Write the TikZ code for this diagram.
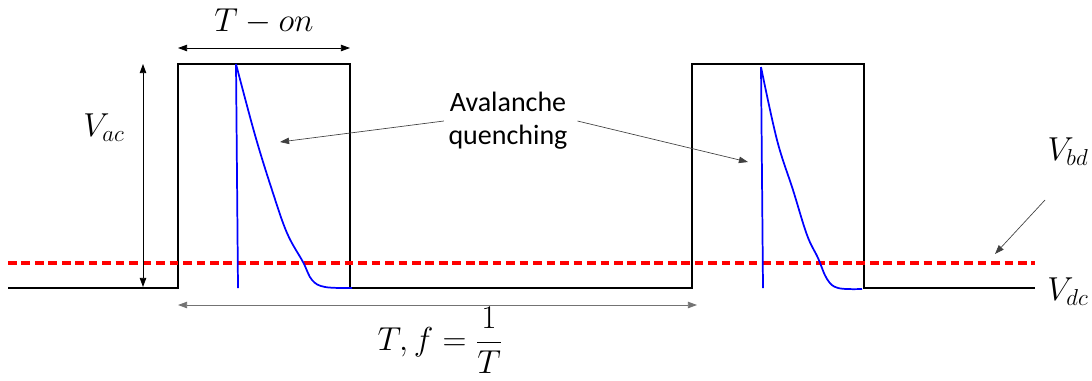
\documentclass[tikz,border=0pt]{standalone}
\usepackage{amsmath}
\usepackage{fontspec}
\setmainfont{Carlito}
\usetikzlibrary{positioning, arrows.meta, calc}

\begin{document}
\begin{tikzpicture}[x=0.75pt, y=-0.75pt, font=\fontsize{21}{25}\selectfont,
  >={Triangle[length=2.4mm, width=1.7mm]},
  sig/.style={line width=1.5pt, black},
  spad/.style={line width=1.3pt, blue},
  vbd/.style={line width=2.6pt, red, dash pattern=on 6.5pt off 3.6pt},
  dim/.style={<->, line width=0.6pt, black},
  lbl/.style={->, line width=0.5pt, black!75},
  mlbl/.style={font=\fontsize{24}{28}\selectfont, inner sep=1pt}]
\useasboundingbox (0,0) rectangle (1092,380);

% square gate signal
\coordinate (s0) at (8,288);
\coordinate (r1) at (178,288);  \coordinate (r1t) at (178,64);
\coordinate (f1t) at (350,64);  \coordinate (f1) at (350,288);
\coordinate (r2) at (692,288);  \coordinate (r2t) at (692,64);
\coordinate (f2t) at (864,64);  \coordinate (f2) at (864,288);
\coordinate (s1) at (1035,288);
\draw[sig] (s0) -- (r1) -- (r1t) -- (f1t) -- (f1) -- (r2) -- (r2t) -- (f2t) -- (f2) -- (s1);

% breakdown level
\coordinate (bd0) at (8,263);
\coordinate (bd1) at (1035,263);
\draw[vbd] (bd0) -- (bd1);

% avalanche pulses
\draw[spad] (238,288) -- (236,64)
  plot[smooth, tension=0.6] coordinates {(236,64) (255,135) (272,190) (287,233)
    (303,262) (312,280) (325,287) (352,288)};
\draw[spad] (763,288) -- (761,67)
  plot[smooth, tension=0.6] coordinates {(761,67) (777,140) (793,190) (807,235)
    (818,258) (827,279) (838,288) (862,289)};

% T-on
\node[mlbl] (ton) at (264,22) {$T-on$};
\coordinate (ton0) at (178,48);
\coordinate (ton1) at (350,48);
\draw[dim] (ton0) -- (ton1);

% V_ac
\node[mlbl] (vac) at (104,128) {$V_{ac}$};
\coordinate (vac0) at (143,64);
\coordinate (vac1) at (143,287);
\draw[dim] (vac0) -- (vac1);

% period
\node[mlbl] (per) at (440,340) {$T,f=\dfrac{1}{T}$};
\coordinate (per0) at (178,305);
\coordinate (per1) at (697,305);
\draw[dim, draw=black!55] (per0) -- (per1);

% quenching labels
\node[align=center] (aq) at (508,121) {Avalanche\\quenching};
\coordinate (aq1) at (280,142);
\coordinate (aq2) at (748,162);
\draw[lbl] (aq.west) -- (aq1);
\draw[lbl] ([xshift=4]aq.east) -- (aq2);

% levels
\node[mlbl] (vbdl) at (1068,152) {$V_{bd}$};
\coordinate (bdtail) at (1045,200);
\coordinate (bdtip) at (995,254);
\draw[lbl] (bdtail) -- (bdtip);
\node[mlbl] (vdcl) at (1068,292) {$V_{dc}$};
\end{tikzpicture}
\end{document}
